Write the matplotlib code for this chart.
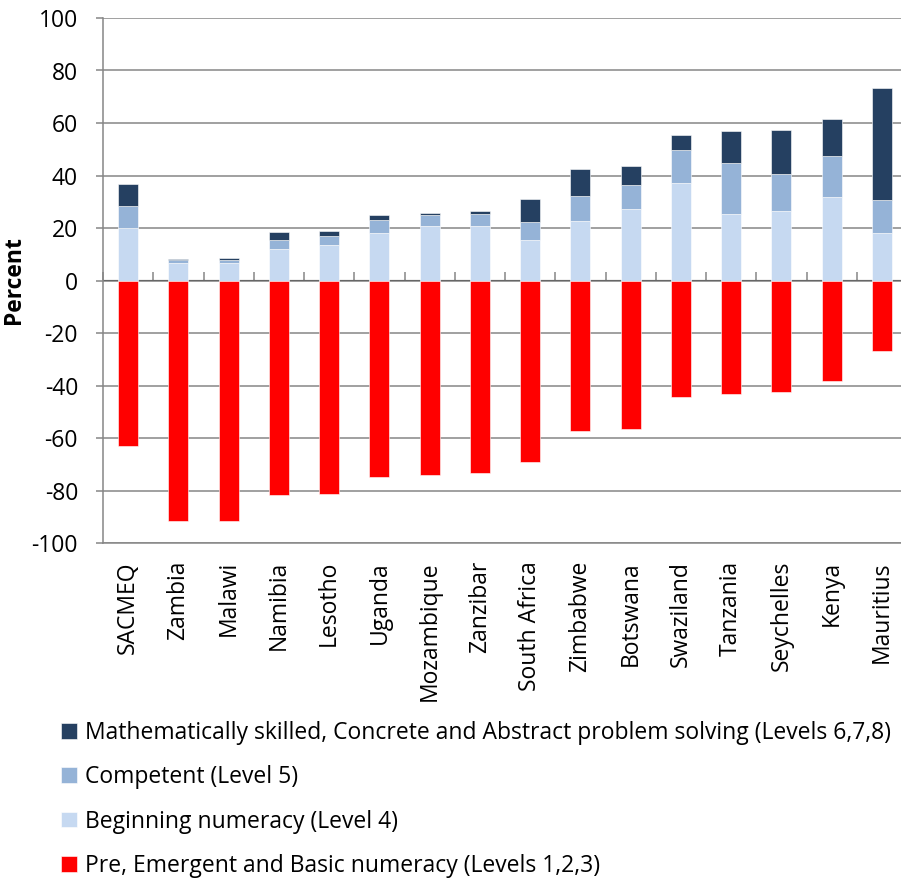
"""SACMEQ numeracy levels by country, stacked bars"""

import matplotlib.pyplot as plt
import numpy as np

plt.rcParams["font.family"] = ["Open Sans", "DejaVu Sans"]
plt.rcParams["axes.unicode_minus"] = False

countries = [
    "SACMEQ", "Zambia", "Malawi", "Namibia", "Lesotho", "Uganda",
    "Mozambique", "Zanzibar", "South Africa", "Zimbabwe", "Botswana",
    "Swaziland", "Tanzania", "Seychelles", "Kenya", "Mauritius",
]
# Levels 1-3 are plotted below zero
basic = [62.9, 91.8, 91.7, 81.8, 81.2, 75.0, 74.2, 73.4,
         69.1, 57.2, 56.5, 44.3, 43.2, 42.3, 38.2, 26.7]
beginning = [20.0, 6.6, 6.8, 12.1, 13.7, 18.0, 20.9, 20.7,
             15.3, 22.5, 27.1, 37.0, 25.4, 26.3, 32.0, 18.0]
competent = [8.3, 1.4, 1.2, 3.5, 3.4, 5.2, 3.9, 4.5,
             7.1, 9.8, 9.2, 12.7, 19.3, 14.3, 15.5, 12.6]
skilled = [8.5, 0.1, 0.4, 2.7, 1.6, 1.7, 1.0, 1.4,
           8.5, 10.2, 7.2, 5.8, 12.1, 16.9, 13.9, 42.6]

labels = [
    "Mathematically skilled, Concrete and Abstract problem solving (Levels 6,7,8)",
    "Competent (Level 5)",
    "Beginning numeracy (Level 4)",
    "Pre, Emergent and Basic numeracy (Levels 1,2,3)",
]
colors = ["#254061", "#95B3D7", "#C6D9F1", "#FF0000"]
grid_color = "#868686"
fs = 16.5

x = np.arange(len(countries))
beginning = np.array(beginning)
competent = np.array(competent)
skilled = np.array(skilled)
basic = np.array(basic)

fig = plt.figure(figsize=(9.01, 8.8), dpi=100)
ax = fig.add_axes([103 / 901, 1 - 543 / 880, 804 / 901, 525 / 880])

w = 0.4
edge = dict(edgecolor="white", linewidth=0.4)
b_beg = ax.bar(x, beginning, w, color=colors[2], zorder=3, **edge)
b_comp = ax.bar(x, competent, w, bottom=beginning, color=colors[1], zorder=3, **edge)
b_skill = ax.bar(x, skilled, w, bottom=beginning + competent,
                 color=colors[0], zorder=3, **edge)
b_basic = ax.bar(x, -basic, w, color=colors[3], zorder=3, **edge)

ax.set_xlim(-0.5, len(countries) - 0.5)
ax.set_ylim(-100, 100)
ax.set_yticks(np.arange(-100, 101, 20))
ax.yaxis.grid(True, color=grid_color, linewidth=1.1, zorder=0)

for side in ["top", "right"]:
    ax.spines[side].set_visible(False)
ax.spines["left"].set_color(grid_color)
ax.spines["left"].set_linewidth(1.1)
ax.spines["bottom"].set_color(grid_color)
ax.spines["bottom"].set_linewidth(1.1)

ax.tick_params(axis="y", length=5, width=1.1, color=grid_color,
               labelsize=fs, pad=13)
ax.set_xticks(x)
ax.set_xticklabels(countries, rotation=90, fontsize=fs)
ax.tick_params(axis="x", length=0, pad=13)

# category boundary ticks sit on the zero line
zero_axis = ax.secondary_xaxis(0.5)
zero_axis.set_xticks(np.arange(len(countries) + 1) - 0.5)
zero_axis.set_xticklabels([])
zero_axis.tick_params(length=6, width=1.1, color=grid_color)
zero_axis.spines["bottom"].set_color(grid_color)
zero_axis.spines["bottom"].set_linewidth(1.1)

ax.set_ylabel("Percent", fontsize=fs, fontweight="bold")
ax.yaxis.set_label_coords(-0.096, 0.5)

fig.legend(
    [b_skill, b_comp, b_beg, b_basic], labels,
    loc="upper left", bbox_to_anchor=(52 / 901, 1 - 712 / 880),
    frameon=False, fontsize=fs, handlelength=0.68, handleheight=0.68,
    handletextpad=0.35, labelspacing=0.88, borderaxespad=0,
)

fig.savefig("out.png", dpi=100)
